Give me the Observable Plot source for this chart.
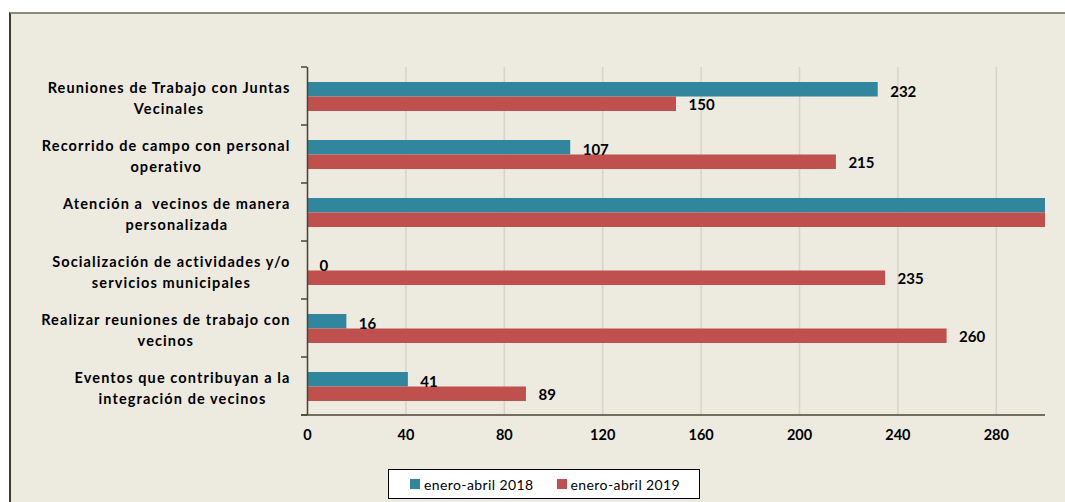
<!DOCTYPE html>
<html><head><meta charset="utf-8">
<script src="https://cdn.jsdelivr.net/npm/d3@7"></script>
<script src="https://cdn.jsdelivr.net/npm/@observablehq/plot@0.6"></script>
<style>
html,body{margin:0;padding:0;background:#fff;width:1065px;height:502px;overflow:hidden;}
#bg{position:absolute;left:9px;top:12px;width:1056px;height:490px;background:#EDEAE0;border-top:2px solid #8E8A7A;border-left:2px solid #3F3B2C;box-sizing:border-box;}
#chart{position:absolute;left:0;top:0;}
#legend{position:absolute;left:388px;top:469px;width:312px;height:30px;background:#fff;border:1.5px solid #000;box-sizing:border-box;font-family:Lato,sans-serif;font-size:14px;letter-spacing:0.4px;color:#000;display:flex;align-items:center;padding-left:21px;white-space:nowrap;overflow:hidden;}
#legend .sw{width:10px;height:10px;margin-right:4px;flex:0 0 auto;}
#legend .it{display:flex;align-items:center;margin-right:23px;flex:0 0 auto;white-space:nowrap;}
</style>
</head><body>
<div id="bg"></div>
<div id="chart"></div>
<div id="legend"></div>
<script>
const categories = [
  "Reuniones de Trabajo con Juntas\nVecinales",
  "Recorrido de campo con personal\noperativo",
  "Atención a  vecinos de manera\npersonalizada",
  "Socialización de actividades y/o\nservicios municipales",
  "Realizar reuniones de trabajo con\nvecinos",
  "Eventos que contribuyan a la\nintegración de vecinos"
];
const values2018 = [232, 107, 300, 0, 16, 41];
const values2019 = [150, 215, 300, 235, 260, 89];
const seriesNames = ["enero-abril 2018", "enero-abril 2019"];
const seriesColors = ["#31859C", "#C0504D"];
const xTicks = [0, 40, 80, 120, 160, 200, 240, 280];
const xMax = 300;

const axisColor = "#4A4635";
const rows = categories.map((c, i) => ({cat: c, v18: values2018[i], v19: values2019[i]}));
const font = "Lato, sans-serif";

const chart = Plot.plot({
  width: 1065, height: 466,
  marginLeft: 307, marginRight: 20, marginTop: 67, marginBottom: 51,
  style: {background: "transparent", fontFamily: font, overflow: "visible"},
  x: {domain: [0, xMax], axis: null},
  y: {domain: categories, padding: 0, axis: null},
  marks: [
    Plot.gridX(xTicks, {stroke: "#D6D4CC", strokeOpacity: 1, strokeWidth: 1.5}),
    Plot.barX(rows, {x: "v18", y: "cat", fill: seriesColors[0], insetTop: 15, insetBottom: 28.5, clip: true}),
    Plot.barX(rows, {x: "v19", y: "cat", fill: seriesColors[1], insetTop: 29.5, insetBottom: 14, clip: true}),
    Plot.ruleX([0], {stroke: axisColor, strokeWidth: 1.5}),
    Plot.axisX(xTicks, {tickSize: 0, tickPadding: 14, fontWeight: "bold", fontSize: 14.5, fill: "#000"}),
    Plot.text(rows.filter(d => d.v18 < xMax), {x: "v18", y: "cat", text: d => String(d.v18), dx: 12, dy: -4.5, textAnchor: "start", fontWeight: "bold", fontSize: 15, fill: "#000"}),
    Plot.text(rows.filter(d => d.v19 < xMax), {x: "v19", y: "cat", text: d => String(d.v19), dx: 12, dy: 9, textAnchor: "start", fontWeight: "bold", fontSize: 15, fill: "#000"}),
    Plot.text(categories, {y: d => d, frameAnchor: "left", dx: -17, textAnchor: "end", lineHeight: 1.5, fontWeight: "bold", fontSize: 14.5, fill: "#000"})
  ]
});
document.getElementById("chart").append(chart);

// center each line of the multi-line category labels inside its block
d3.select(chart).selectAll("text").each(function() {
  const tsp = this.querySelectorAll("tspan");
  if (tsp.length < 2) return;
  this.style.letterSpacing = "1.1px";
  let W = 0;
  tsp.forEach(t => { W = Math.max(W, t.getComputedTextLength()); });
  this.setAttribute("text-anchor", "middle");
  tsp.forEach(t => { t.setAttribute("x", -W / 2); t.setAttribute("text-anchor", "middle"); });
});

// category-boundary ticks and bottom axis line from the chart's scales
const ys = chart.scale("y"), xs = chart.scale("x");
const x0 = xs.apply(0), x1 = xs.apply(xMax);
const g = d3.select(chart).append("g").attr("stroke", axisColor).attr("stroke-width", 1.5);
const bounds = ys.domain.map(d => ys.apply(d));
bounds.push(ys.apply(ys.domain[ys.domain.length - 1]) + ys.bandwidth);
bounds.forEach(y => g.append("line").attr("x1", x0 - 6).attr("x2", x0).attr("y1", y).attr("y2", y));
g.append("line").attr("x1", x0 - 6).attr("x2", x1).attr("y1", bounds[bounds.length - 1]).attr("y2", bounds[bounds.length - 1]);

// legend
const leg = d3.select("#legend");
seriesNames.forEach((n, i) => {
  const it = leg.append("div").attr("class", "it");
  it.append("div").attr("class", "sw").style("background", seriesColors[i]);
  it.append("span").text(n);
});
</script>
</body></html>
